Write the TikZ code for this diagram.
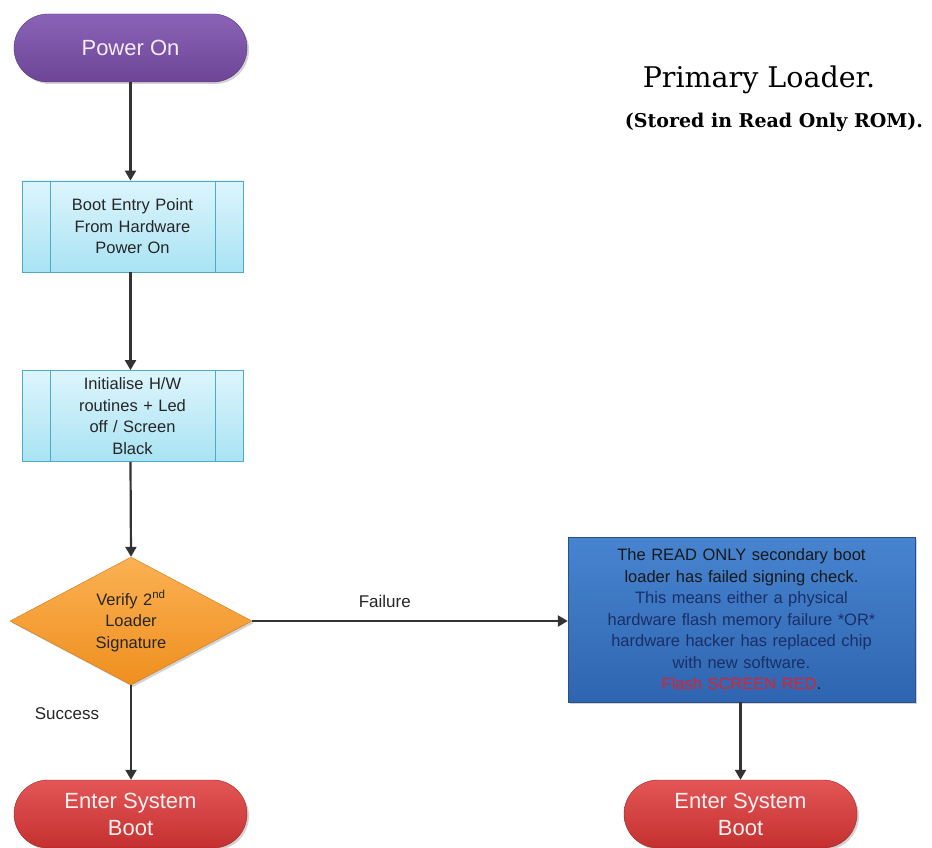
\documentclass[tikz,border=0pt]{standalone}
\usepackage{fontspec}
\setmainfont{Liberation Sans}
\newfontfamily\titlefont{DejaVu Serif}
\usetikzlibrary{arrows.meta,shapes.geometric,shadows}
\definecolor{purpA}{HTML}{8A63B8}
\definecolor{purpB}{HTML}{6E4596}
\definecolor{cyanA}{HTML}{DDF5FC}
\definecolor{cyanB}{HTML}{A9E3F3}
\definecolor{cyanL}{HTML}{4BACC6}
\definecolor{orgA}{HTML}{FBB153}
\definecolor{orgB}{HTML}{EF8F1F}
\definecolor{blueA}{HTML}{4784D0}
\definecolor{blueB}{HTML}{2F65B0}
\definecolor{redA}{HTML}{E45656}
\definecolor{redB}{HTML}{C43030}
\definecolor{navy}{HTML}{1A2F66}
\definecolor{flashred}{HTML}{E0202A}
\tikzset{
  term/.style={rectangle, rounded corners=34pt, minimum width=233pt, minimum height=68pt,
    inner sep=0pt, align=center, font=\fontsize{22}{27}\selectfont,
    drop shadow={opacity=0.35, shadow xshift=2pt, shadow yshift=-2pt}},
  purpterm/.style={term, top color=purpA, bottom color=purpB, draw=purpB!80!black, text=white!88!purpA},
  redterm/.style={term, top color=redA, bottom color=redB, draw=redB!80!black, text=white!92!redA},
  procbox/.style={rectangle, minimum width=221pt, minimum height=91pt, inner sep=0pt,
    top color=cyanA, bottom color=cyanB, draw=cyanL, line width=0.8pt, align=center,
    text width=150pt, text=black!85, font=\fontsize{16.5}{21.5}\selectfont,
    path picture={
      \draw[cyanL, line width=0.8pt] ([xshift=28pt]path picture bounding box.north west) -- ([xshift=28pt]path picture bounding box.south west);
      \draw[cyanL, line width=0.8pt] ([xshift=-28pt]path picture bounding box.north east) -- ([xshift=-28pt]path picture bounding box.south east);
    }},
  decide/.style={diamond, minimum width=242pt, minimum height=128pt, inner sep=0pt, aspect=1.89,
    top color=orgA, bottom color=orgB, draw=orgB!85!black, align=center, text width=90pt,
    text=black!85, font=\fontsize{16.5}{21.5}\selectfont,
    drop shadow={opacity=0.35, shadow xshift=2pt, shadow yshift=-2pt}},
  bluebox/.style={rectangle, minimum width=347pt, minimum height=165pt, inner sep=0pt,
    top color=blueA, bottom color=blueB, draw=blueB!80!black, align=center, text width=330pt,
    font=\fontsize{16.5}{21.5}\selectfont,
    drop shadow={opacity=0.35, shadow xshift=2pt, shadow yshift=-2pt}},
  conn/.style={draw=black!80, line width=2.2pt, -{Triangle[width=11pt,length=10pt]}},
  lbl/.style={font=\fontsize{17}{20}\selectfont, text=black!85, inner sep=0pt}
}
\begin{document}
\begin{tikzpicture}[x=1pt,y=-1pt]
\useasboundingbox[fill=white] (0,0) rectangle (932,848);
\node[purpterm] (pwr) at (130.5,48) {Power On};
\node[procbox] (boot) at (132.5,226.5) {Boot Entry Point\\From Hardware\\Power On};
\node[procbox] (init) at (132.5,416) {Initialise H/W\\routines + Led\\off / Screen\\Black};
\node[decide] (ver) at (131,621) {Verify 2\textsuperscript{nd}\\Loader\\Signature};
\node[bluebox] (fail) at (741.5,619.5) {\color{black!90}The READ ONLY secondary boot\\\color{black!90}loader has failed signing check.\\\color{navy}This means either a physical\\\color{navy}hardware flash memory failure *OR*\\\color{navy}hardware hacker has replaced chip\\\color{navy}with new software.\\{\color{flashred}Flash SCREEN RED}\color{black!90}.};
\node[redterm] (sys1) at (130.5,814) {Enter System\\Boot};
\node[redterm] (sys2) at (740.5,814) {Enter System\\Boot};
\node[font=\titlefont\fontsize{28.5}{30}\selectfont, inner sep=0pt] (title) at (759,80) {Primary Loader.};
\node[font=\titlefont\bfseries\fontsize{19}{22}\selectfont, inner sep=0pt] (sub) at (774,122) {(Stored in Read Only ROM).};
\draw[conn] (pwr.south) -- (pwr.south |- boot.north);
\draw[conn] (pwr.south |- boot.south) -- (pwr.south |- init.north);
\draw[conn] (pwr.south |- init.south) -- (ver.north);
\draw[conn] (ver.east) -- node[lbl, pos=0.42, above=12pt] {Failure} (ver.east -| fail.west);
\draw[conn] (ver.south) -- (ver.south |- sys1.north);
\draw[conn] (fail.south -| sys2) -- (sys2.north);
\node[lbl] (succ) at (67,714) {Success};
\end{tikzpicture}
\end{document}
